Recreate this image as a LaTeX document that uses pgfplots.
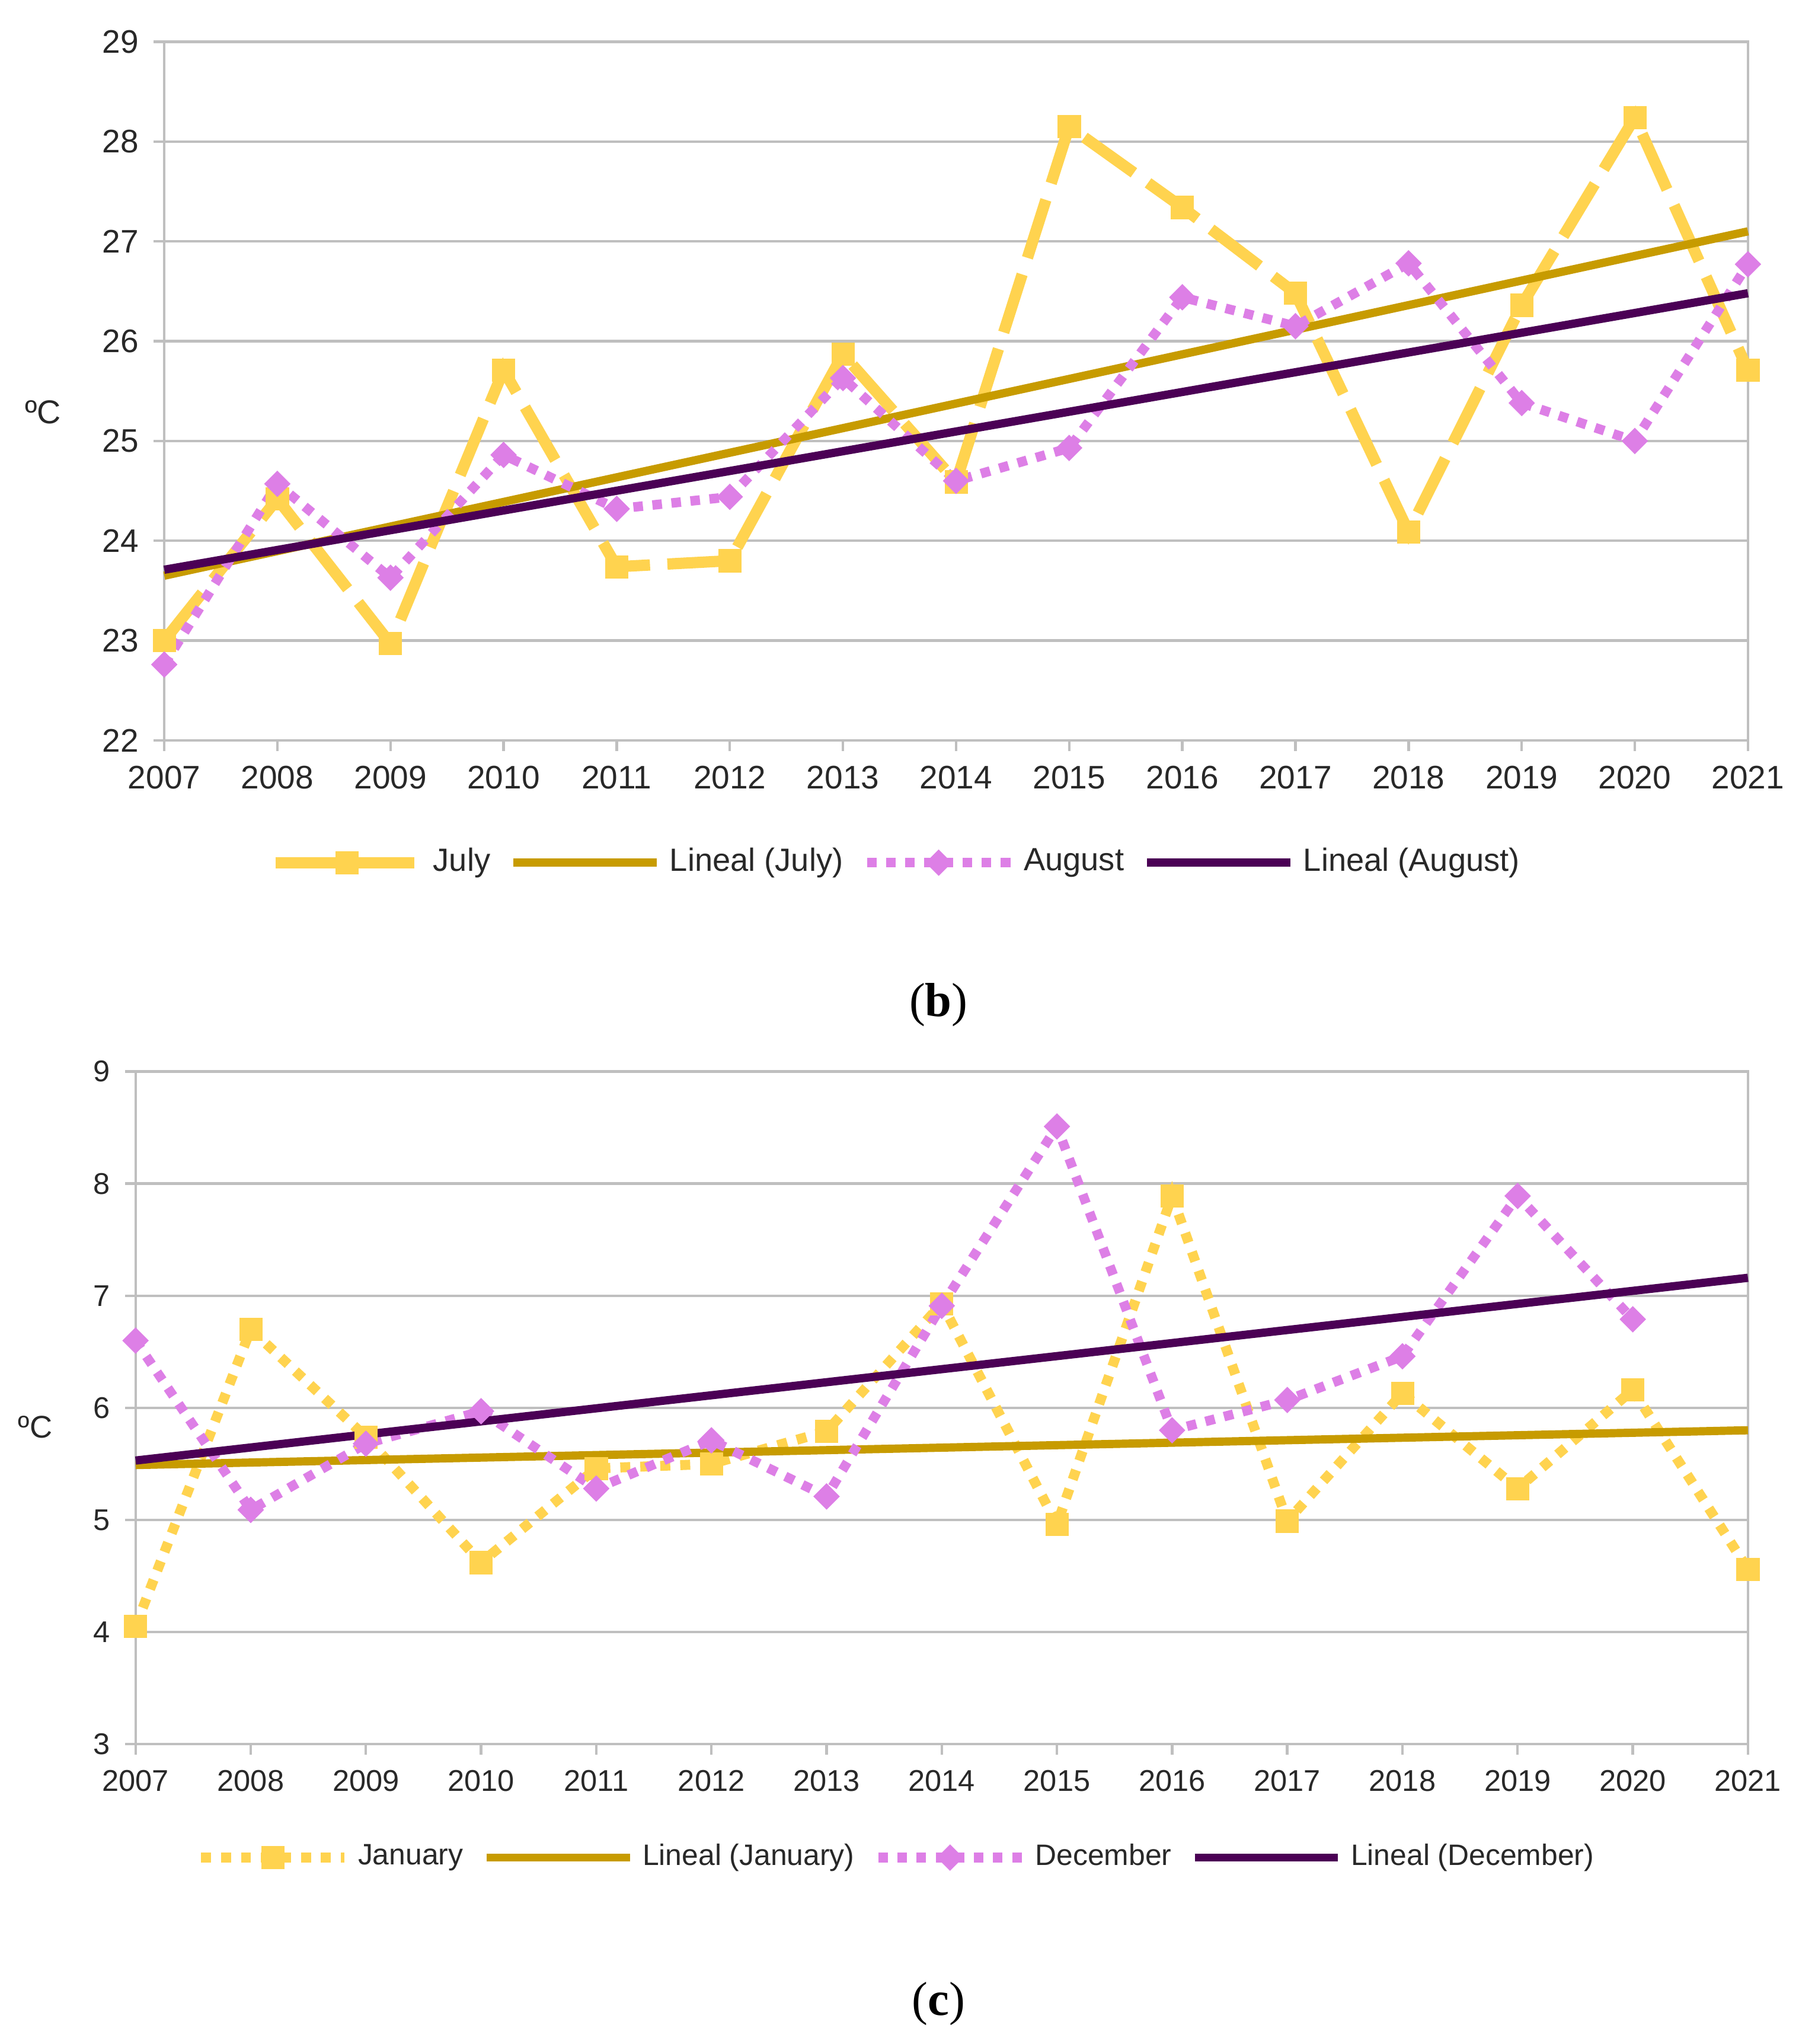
\documentclass[border=0pt]{standalone}
\usepackage{fontspec}
\setmainfont{Liberation Sans}
\newfontfamily\capfont{Liberation Serif}
\usepackage{pgfplots}
\pgfplotsset{compat=1.18}
\definecolor{julyc}{RGB}{255,211,79}
\definecolor{goldc}{RGB}{199,155,0}
\definecolor{augc}{RGB}{221,127,230}
\definecolor{purpc}{RGB}{75,0,85}
\definecolor{gridc}{RGB}{191,191,191}
\definecolor{txtc}{RGB}{40,40,40}
\pgfplotsset{
  mystyle/.style={
    scale only axis,
    clip=false,
    xmin=2007, xmax=2021,
    xtick={2007,2008,...,2021},
    tick pos=left,
    tick align=outside,
    major tick length=2.4pt,
    axis line style={draw=gridc, line width=0.6pt},
    tick style={draw=gridc, line width=0.6pt},
    ymajorgrids,
    grid style={draw=gridc, line width=0.6pt},
    ticklabel style={font=\fontsize{7.5}{8}\selectfont, text=txtc},
    /pgf/number format/assume math mode=true,
    /pgf/number format/1000 sep={},
    legend columns=4,
    legend style={draw=none, fill=none, font=\fontsize{7.4}{8}\selectfont, text=txtc, anchor=center,
      /tikz/every even column/.append style={column sep=2.4pt}},
    legend image code/.code={\draw[mark repeat=2,mark phase=2,##1] plot coordinates {(0pt,0pt) (16.5pt,0pt) (33pt,0pt)};},
  }
}
\begin{document}
\begin{tikzpicture}
\useasboundingbox (0,0) rectangle (414pt,470.4pt);
% ---------------- (b) ----------------
\begin{axis}[mystyle,
  at={(37.8pt,300pt)}, anchor=south west,
  width=364.5pt, height=160.8pt,
  ymin=22, ymax=29, ytick={22,23,...,29},
  ylabel={ºC},
  every axis y label/.style={at={(axis description cs:-0.0765,0.47)}, anchor=center, font=\fontsize{7.6}{8}\selectfont, text=txtc},
  legend style={at={(axis description cs:0.464,-0.175)}},
]
\addplot[julyc, line width=2.6pt, dash pattern=on 14pt off 4pt, mark=square*, mark size=2.6pt, mark options={solid, line width=0.1pt}]
coordinates {(2007,23.00) (2008,24.42) (2009,22.97) (2010,25.71) (2011,23.74) (2012,23.80) (2013,25.87) (2014,24.59) (2015,28.15) (2016,27.34) (2017,26.48) (2018,24.09) (2019,26.36) (2020,28.24) (2021,25.71)};
\addlegendentry{July}
\addplot[goldc, line width=1.9pt] coordinates {(2007,23.65) (2021,27.10)};
\addlegendentry{Lineal (July)}
\addplot[augc, line width=2.2pt, dash pattern=on 2.2pt off 2.2pt, mark=square*, mark size=2.1pt, mark options={solid, rotate=45, line width=0.1pt}]
coordinates {(2007,22.76) (2008,24.57) (2009,23.63) (2010,24.86) (2011,24.32) (2012,24.44) (2013,25.63) (2014,24.60) (2015,24.93) (2016,26.44) (2017,26.15) (2018,26.78) (2019,25.38) (2020,25.00) (2021,26.77)};
\addlegendentry{August}
\addplot[purpc, line width=1.9pt] coordinates {(2007,23.71) (2021,26.48)};
\addlegendentry{Lineal (August)}
\end{axis}
\node[font=\capfont\fontsize{11}{12}\selectfont] at (216pt,239.1pt) {(\textbf{b})};
% ---------------- (c) ----------------
\begin{axis}[mystyle,
  at={(31.2pt,69pt)}, anchor=south west,
  width=371.1pt, height=154.8pt,
  ymin=3, ymax=9, ytick={3,4,...,9},
  ticklabel style={font=\fontsize{6.9}{8}\selectfont},
  ylabel={ºC},
  every axis y label/.style={at={(axis description cs:-0.0622,0.471)}, anchor=center, font=\fontsize{7.2}{8}\selectfont, text=txtc},
  legend style={at={(axis description cs:0.4737,-0.1686)}, font=\fontsize{6.8}{8}\selectfont},
]
\addplot[julyc, line width=2.3pt, dash pattern=on 2.3pt off 2.3pt, mark=square*, mark size=2.6pt, mark options={solid, line width=0.1pt}]
coordinates {(2007,4.05) (2008,6.70) (2009,5.74) (2010,4.62) (2011,5.46) (2012,5.50) (2013,5.79) (2014,6.93) (2015,4.96) (2016,7.89) (2017,4.99) (2018,6.13) (2019,5.28) (2020,6.16) (2021,4.56)};
\addlegendentry{January}
\addplot[goldc, line width=1.9pt] coordinates {(2007,5.49) (2021,5.80)};
\addlegendentry{Lineal (January)}
\addplot[augc, line width=2.2pt, dash pattern=on 2.2pt off 2.2pt, mark=square*, mark size=2.1pt, mark options={solid, rotate=45, line width=0.1pt}]
coordinates {(2007,6.60) (2008,5.09) (2009,5.68) (2010,5.97) (2011,5.28) (2012,5.71) (2013,5.21) (2014,6.91) (2015,8.51) (2016,5.80) (2017,6.07) (2018,6.46) (2019,7.89) (2020,6.79)};
\addlegendentry{December}
\addplot[purpc, line width=1.9pt] coordinates {(2007,5.53) (2021,7.16)};
\addlegendentry{Lineal (December)}
\end{axis}
\node[font=\capfont\fontsize{11}{12}\selectfont] at (216pt,9.3pt) {(\textbf{c})};
\end{tikzpicture}
\end{document}
